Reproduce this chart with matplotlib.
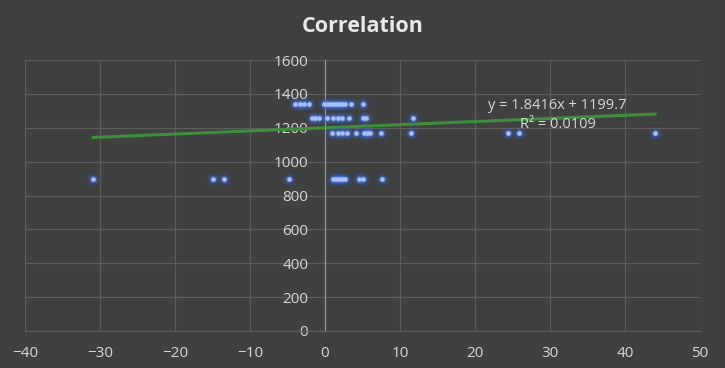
import matplotlib
matplotlib.use("Agg")
import matplotlib.pyplot as plt
import numpy as np

title = "Correlation"
x_1340 = [-4.0, -3.4, -2.8, -2.1, -0.2, 0.2, 0.6, 1.0, 1.4, 1.8, 2.2, 2.7, 3.4, 5.1]
x_1255 = [-1.7, -1.3, -0.8, 0.2, 1.0, 1.7, 2.3, 3.2, 5.0, 5.5, 11.7]
x_1170 = [0.9, 1.7, 2.3, 2.9, 4.1, 5.2, 5.6, 6.0, 7.4, 11.5, 24.4, 25.8, 44.0]
x_900 = [-30.9, -15.0, -13.5, -4.8, 1.0, 1.4, 1.8, 2.2, 2.6, 4.5, 5.0, 7.6]
y_levels = [1340, 1255, 1170, 900]
slope, intercept = 1.8416, 1199.7
r2 = 0.0109
x_ticks = [-40, -30, -20, -10, 0, 10, 20, 30, 40, 50]
y_ticks = [0, 200, 400, 600, 800, 1000, 1200, 1400, 1600]

xs = np.concatenate([x_1340, x_1255, x_1170, x_900])
ys = np.concatenate([[y_levels[0]] * len(x_1340), [y_levels[1]] * len(x_1255),
                     [y_levels[2]] * len(x_1170), [y_levels[3]] * len(x_900)])

bg = "#404040"
txt = "#d9d9d9"
plt.rcParams['font.family'] = ['Open Sans', 'DejaVu Sans']

fig = plt.figure(figsize=(7.25, 3.68), dpi=100, facecolor=bg)
ax = fig.add_axes([25/725, 1-331/368, 675/725, 271/368], facecolor=bg)

ax.set_xlim(-40, 50)
ax.set_ylim(0, 1600)
ax.set_xticks(x_ticks)
ax.set_yticks(y_ticks)
ax.grid(True, color="#5c5c5c", linewidth=0.9)
ax.set_axisbelow(True)
for s in ['top', 'right']:
    ax.spines[s].set_visible(False)
ax.spines['left'].set_position(('data', 0))
ax.spines['left'].set_color("#9a9a9a")
ax.spines['bottom'].set_color("#5c5c5c")
ax.tick_params(length=0, colors=txt, labelsize=11)
ax.tick_params(axis='x', pad=11)
ax.tick_params(axis='y', pad=12)

# glow
ax.scatter(xs, ys, s=80, color="#2f5fd0", alpha=0.22, linewidths=0, zorder=3)
ax.scatter(xs, ys, s=32, color="#4a78e0", alpha=0.45, linewidths=0, zorder=3)
ax.scatter(xs, ys, s=11, color="#a9c0f2", linewidths=0, zorder=4)

tx = np.array([xs.min(), xs.max()])
ax.plot(tx, slope * tx + intercept, color="#3e8e3e", linewidth=2.2, zorder=2)

ax.text(31, 1275, f"y = {slope}x + {intercept}\nR² = {r2}", color=txt, fontsize=10.5,
        ha='center', va='center', linespacing=1.35, zorder=5)

fig.text(0.5, 1-26/368, title, color="#e8e8e8", fontsize=15.5, fontweight='bold',
         ha='center', va='center')

fig.savefig("out.png", dpi=100, facecolor=bg)
